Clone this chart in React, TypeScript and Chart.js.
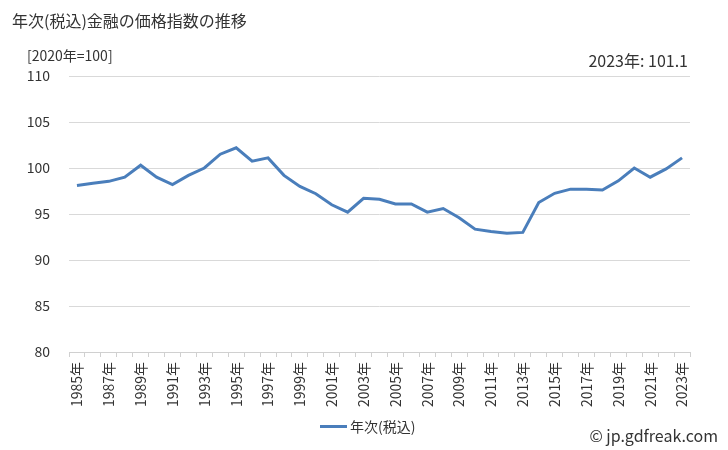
import React, { useEffect, useRef } from "react";
import { Chart, registerables } from "chart.js";

Chart.register(...registerables);

const years: string[] = [
  "1985年","1986年","1987年","1988年","1989年","1990年","1991年","1992年","1993年","1994年",
  "1995年","1996年","1997年","1998年","1999年","2000年","2001年","2002年","2003年","2004年",
  "2005年","2006年","2007年","2008年","2009年","2010年","2011年","2012年","2013年","2014年",
  "2015年","2016年","2017年","2018年","2019年","2020年","2021年","2022年","2023年",
];

const values: number[] = [
  98.1, 98.35, 98.55, 99.0, 100.3, 99.0, 98.2, 99.2, 100.0, 101.5,
  102.2, 100.75, 101.1, 99.2, 98.0, 97.2, 96.0, 95.2, 96.7, 96.6,
  96.1, 96.1, 95.2, 95.6, 94.6, 93.35, 93.1, 92.9, 93.0, 96.25,
  97.25, 97.7, 97.7, 97.6, 98.6, 100.0, 99.0, 99.9, 101.1,
];

const yTicks: number[] = [80, 85, 90, 95, 100, 105, 110];

const seriesName = "年次(税込)";
const titleText = "年次(税込)金融の価格指数の推移";
const unitText = "[2020年=100]";
const latestText = "2023年: 101.1";
const creditText = "© jp.gdfreak.com";

const FONT = "'Noto Sans CJK JP', 'Noto Sans', sans-serif";
const LINE_COLOR = "#4a7ebb";

export default function App() {
  const ref = useRef<HTMLCanvasElement | null>(null);

  useEffect(() => {
    if (!ref.current) return;
    const chart = new Chart(ref.current, {
      type: "line",
      data: {
        labels: years,
        datasets: [
          {
            label: seriesName,
            data: values,
            borderColor: LINE_COLOR,
            backgroundColor: LINE_COLOR,
            borderWidth: 3,
            pointRadius: 0,
            tension: 0,
          },
        ],
      },
      options: {
        responsive: false,
        animation: false,
        layout: { padding: { top: 76, right: 38, left: 0, bottom: 0 } },
        plugins: {
          legend: { display: false },
          title: { display: false },
          tooltip: { enabled: false },
        },
        scales: {
          x: {
            type: "category",
            offset: true,
            grid: {
              display: true,
              drawOnChartArea: false,
              drawTicks: true,
              tickLength: 5,
              color: "#d0d0d0",
              offset: true,
            },
            border: { display: true, color: "#d0d0d0" },
            ticks: {
              autoSkip: false,
              maxRotation: 90,
              minRotation: 90,
              padding: 5,
              color: "#333",
              font: { family: FONT, size: 14 },
              callback: (_v: any, i: number) => (i % 2 === 0 ? years[i] : ""),
            },
            afterFit: (s: any) => {
              s.height = 98;
            },
          },
          y: {
            min: 80,
            max: 110,
            afterBuildTicks: (s: any) => {
              s.ticks = yTicks.map((v) => ({ value: v }));
            },
            grid: {
              color: "#d9d9d9",
              drawTicks: false,
              lineWidth: 1,
            },
            border: { display: false },
            ticks: {
              padding: 19,
              color: "#333",
              font: { family: FONT, size: 14 },
            },
            afterFit: (s: any) => {
              s.width = 69;
            },
          },
        },
      },
    });
    return () => chart.destroy();
  }, []);

  return (
    <div
      style={{
        position: "fixed",
        left: 0,
        top: 0,
        width: 728,
        height: 450,
        background: "#fff",
        fontFamily: FONT,
        color: "#333",
      }}
    >
      <canvas ref={ref} width={728} height={450} style={{ position: "absolute", left: 0, top: 0 }} />
      <div style={{ position: "absolute", left: 12, top: 8, fontSize: 16, lineHeight: "24px" }}>{titleText}</div>
      <div style={{ position: "absolute", left: 27, top: 45, fontSize: 14, lineHeight: "20px" }}>{unitText}</div>
      <div style={{ position: "absolute", right: 40, top: 49, fontSize: 16, lineHeight: "22px" }}>{latestText}</div>
      <div
        style={{
          position: "absolute",
          left: 320,
          top: 415,
          display: "flex",
          alignItems: "center",
          fontSize: 14,
          lineHeight: "22px",
        }}
      >
        <span style={{ display: "inline-block", width: 27, height: 3, background: LINE_COLOR, marginRight: 3 }} />
        <span>{seriesName}</span>
      </div>
      <div style={{ position: "absolute", right: 10, top: 424, fontSize: 16, lineHeight: "22px" }}>{creditText}</div>
    </div>
  );
}
